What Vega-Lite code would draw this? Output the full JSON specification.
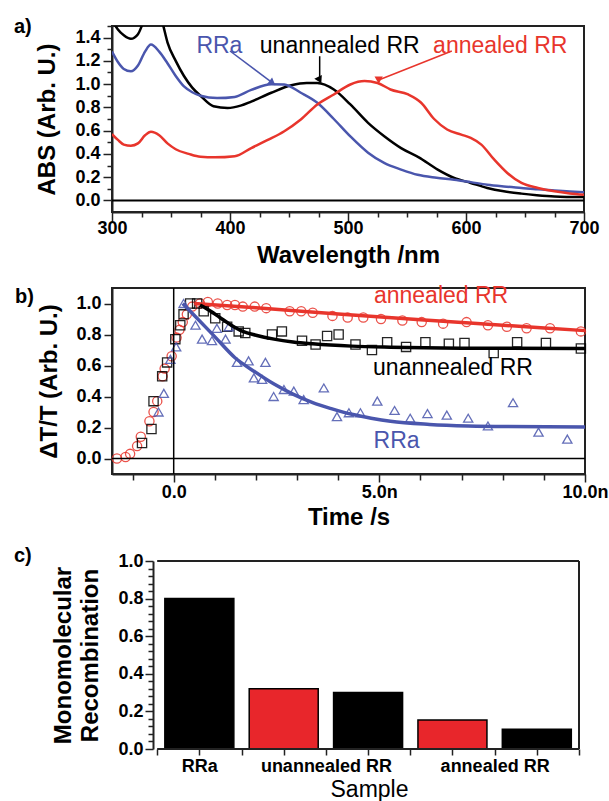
{
  "$schema": "https://vega.github.io/schema/vega-lite/v6.json",
  "padding": {"left": 13, "top": 16, "right": 0, "bottom": 0},
  "background": "white",
  "spacing": 16,
  "datasets": {
    "spectra": [
      {"sample":"unannealed RR","wl":300,"abs":1.55},{"sample":"unannealed RR","wl":305,"abs":1.47},{"sample":"unannealed RR","wl":310,"abs":1.42},{"sample":"unannealed RR","wl":316,"abs":1.39},{"sample":"unannealed RR","wl":322,"abs":1.43},{"sample":"unannealed RR","wl":326,"abs":1.52},{"sample":"unannealed RR","wl":335,"abs":1.75},{"sample":"unannealed RR","wl":343,"abs":1.52},{"sample":"unannealed RR","wl":347,"abs":1.36},{"sample":"unannealed RR","wl":354,"abs":1.2},{"sample":"unannealed RR","wl":361,"abs":1.07},{"sample":"unannealed RR","wl":368,"abs":0.97},{"sample":"unannealed RR","wl":375,"abs":0.9},{"sample":"unannealed RR","wl":386,"abs":0.81},{"sample":"unannealed RR","wl":398,"abs":0.795},{"sample":"unannealed RR","wl":409,"abs":0.815},{"sample":"unannealed RR","wl":418,"abs":0.85},{"sample":"unannealed RR","wl":435,"abs":0.926},{"sample":"unannealed RR","wl":452,"abs":0.99},{"sample":"unannealed RR","wl":465,"abs":1.01},{"sample":"unannealed RR","wl":474,"abs":1.01},{"sample":"unannealed RR","wl":488,"abs":0.954},{"sample":"unannealed RR","wl":502,"abs":0.825},{"sample":"unannealed RR","wl":517,"abs":0.667},{"sample":"unannealed RR","wl":531,"abs":0.55},{"sample":"unannealed RR","wl":545,"abs":0.45},{"sample":"unannealed RR","wl":560,"abs":0.37},{"sample":"unannealed RR","wl":576,"abs":0.265},{"sample":"unannealed RR","wl":590,"abs":0.193},{"sample":"unannealed RR","wl":604,"abs":0.15},{"sample":"unannealed RR","wl":618,"abs":0.107},{"sample":"unannealed RR","wl":632,"abs":0.078},{"sample":"unannealed RR","wl":647,"abs":0.058},{"sample":"unannealed RR","wl":660,"abs":0.045},{"sample":"unannealed RR","wl":675,"abs":0.034},{"sample":"unannealed RR","wl":700,"abs":0.028},
      {"sample":"RRa","wl":300,"abs":1.28},{"sample":"RRa","wl":305,"abs":1.19},{"sample":"RRa","wl":310,"abs":1.13},{"sample":"RRa","wl":316,"abs":1.11},{"sample":"RRa","wl":322,"abs":1.16},{"sample":"RRa","wl":328,"abs":1.28},{"sample":"RRa","wl":333,"abs":1.34},{"sample":"RRa","wl":340,"abs":1.28},{"sample":"RRa","wl":347,"abs":1.18},{"sample":"RRa","wl":354,"abs":1.07},{"sample":"RRa","wl":361,"abs":0.98},{"sample":"RRa","wl":368,"abs":0.93},{"sample":"RRa","wl":375,"abs":0.9},{"sample":"RRa","wl":389,"abs":0.88},{"sample":"RRa","wl":404,"abs":0.89},{"sample":"RRa","wl":418,"abs":0.95},{"sample":"RRa","wl":435,"abs":1.0},{"sample":"RRa","wl":446,"abs":0.997},{"sample":"RRa","wl":460,"abs":0.926},{"sample":"RRa","wl":474,"abs":0.84},{"sample":"RRa","wl":488,"abs":0.7},{"sample":"RRa","wl":502,"abs":0.55},{"sample":"RRa","wl":517,"abs":0.41},{"sample":"RRa","wl":531,"abs":0.32},{"sample":"RRa","wl":545,"abs":0.265},{"sample":"RRa","wl":559,"abs":0.22},{"sample":"RRa","wl":575,"abs":0.195},{"sample":"RRa","wl":590,"abs":0.178},{"sample":"RRa","wl":604,"abs":0.157},{"sample":"RRa","wl":618,"abs":0.135},{"sample":"RRa","wl":632,"abs":0.12},{"sample":"RRa","wl":647,"abs":0.107},{"sample":"RRa","wl":661,"abs":0.095},{"sample":"RRa","wl":675,"abs":0.086},{"sample":"RRa","wl":688,"abs":0.077},{"sample":"RRa","wl":700,"abs":0.069},
      {"sample":"annealed RR","wl":300,"abs":0.57},{"sample":"annealed RR","wl":305,"abs":0.52},{"sample":"annealed RR","wl":310,"abs":0.48},{"sample":"annealed RR","wl":316,"abs":0.47},{"sample":"annealed RR","wl":322,"abs":0.49},{"sample":"annealed RR","wl":328,"abs":0.56},{"sample":"annealed RR","wl":333,"abs":0.59},{"sample":"annealed RR","wl":340,"abs":0.56},{"sample":"annealed RR","wl":347,"abs":0.49},{"sample":"annealed RR","wl":354,"abs":0.44},{"sample":"annealed RR","wl":365,"abs":0.4},{"sample":"annealed RR","wl":375,"abs":0.375},{"sample":"annealed RR","wl":387,"abs":0.37},{"sample":"annealed RR","wl":404,"abs":0.38},{"sample":"annealed RR","wl":418,"abs":0.45},{"sample":"annealed RR","wl":432,"abs":0.52},{"sample":"annealed RR","wl":446,"abs":0.595},{"sample":"annealed RR","wl":460,"abs":0.696},{"sample":"annealed RR","wl":474,"abs":0.825},{"sample":"annealed RR","wl":488,"abs":0.911},{"sample":"annealed RR","wl":502,"abs":0.997},{"sample":"annealed RR","wl":514,"abs":1.026},{"sample":"annealed RR","wl":525,"abs":1.01},{"sample":"annealed RR","wl":536,"abs":0.954},{"sample":"annealed RR","wl":551,"abs":0.911},{"sample":"annealed RR","wl":562,"abs":0.84},{"sample":"annealed RR","wl":573,"abs":0.7},{"sample":"annealed RR","wl":584,"abs":0.61},{"sample":"annealed RR","wl":596,"abs":0.566},{"sample":"annealed RR","wl":604,"abs":0.538},{"sample":"annealed RR","wl":613,"abs":0.48},{"sample":"annealed RR","wl":624,"abs":0.35},{"sample":"annealed RR","wl":635,"abs":0.236},{"sample":"annealed RR","wl":647,"abs":0.15},{"sample":"annealed RR","wl":661,"abs":0.107},{"sample":"annealed RR","wl":675,"abs":0.078},{"sample":"annealed RR","wl":688,"abs":0.06},{"sample":"annealed RR","wl":700,"abs":0.049}
    ],
    "arrows": [
      {"sample":"RRa","wl":400,"abs":1.285,"wl2":436,"abs2":1.01},
      {"sample":"unannealed RR","wl":476,"abs":1.24,"wl2":476,"abs2":1.035},
      {"sample":"annealed RR","wl":588,"abs":1.285,"wl2":526,"abs2":1.035}
    ],
    "labelsA": [
      {"sample":"RRa","wl":391,"abs":1.33},
      {"sample":"unannealed RR","wl":493,"abs":1.33},
      {"sample":"annealed RR","wl":629,"abs":1.33}
    ],
    "points": [
      {"sample":"annealed RR","t":-1.38,"v":0.0},{"sample":"annealed RR","t":-1.17,"v":0.01},{"sample":"annealed RR","t":-1.06,"v":0.03},{"sample":"annealed RR","t":-0.89,"v":0.08},{"sample":"annealed RR","t":-0.8,"v":0.14},{"sample":"annealed RR","t":-0.59,"v":0.24},{"sample":"annealed RR","t":-0.49,"v":0.3},{"sample":"annealed RR","t":-0.4,"v":0.37},{"sample":"annealed RR","t":-0.27,"v":0.53},{"sample":"annealed RR","t":-0.22,"v":0.58},{"sample":"annealed RR","t":-0.05,"v":0.66},{"sample":"annealed RR","t":0.07,"v":0.78},{"sample":"annealed RR","t":0.14,"v":0.83},{"sample":"annealed RR","t":0.22,"v":0.88},{"sample":"annealed RR","t":0.32,"v":0.93},{"sample":"annealed RR","t":0.45,"v":0.98},{"sample":"annealed RR","t":0.64,"v":1.0},{"sample":"annealed RR","t":0.83,"v":1.01},{"sample":"annealed RR","t":1.07,"v":1.0},{"sample":"annealed RR","t":1.3,"v":0.99},{"sample":"annealed RR","t":1.49,"v":0.99},{"sample":"annealed RR","t":1.68,"v":0.98},{"sample":"annealed RR","t":1.97,"v":0.98},{"sample":"annealed RR","t":2.25,"v":0.97},{"sample":"annealed RR","t":2.82,"v":0.95},{"sample":"annealed RR","t":3.1,"v":0.95},{"sample":"annealed RR","t":3.38,"v":0.94},{"sample":"annealed RR","t":3.86,"v":0.92},{"sample":"annealed RR","t":4.23,"v":0.91},{"sample":"annealed RR","t":4.61,"v":0.91},{"sample":"annealed RR","t":5.04,"v":0.9},{"sample":"annealed RR","t":5.56,"v":0.89},{"sample":"annealed RR","t":6.03,"v":0.88},{"sample":"annealed RR","t":6.55,"v":0.87},{"sample":"annealed RR","t":7.12,"v":0.88},{"sample":"annealed RR","t":7.64,"v":0.86},{"sample":"annealed RR","t":8.1,"v":0.85},{"sample":"annealed RR","t":8.58,"v":0.84},{"sample":"annealed RR","t":9.15,"v":0.84},{"sample":"annealed RR","t":9.9,"v":0.82},
      {"sample":"unannealed RR","t":-0.77,"v":0.1},{"sample":"unannealed RR","t":-0.54,"v":0.19},{"sample":"unannealed RR","t":-0.49,"v":0.37},{"sample":"unannealed RR","t":-0.28,"v":0.53},{"sample":"unannealed RR","t":-0.16,"v":0.62},{"sample":"unannealed RR","t":0.04,"v":0.77},{"sample":"unannealed RR","t":0.16,"v":0.86},{"sample":"unannealed RR","t":0.24,"v":0.93},{"sample":"unannealed RR","t":0.4,"v":1.0},{"sample":"unannealed RR","t":0.57,"v":1.0},{"sample":"unannealed RR","t":0.73,"v":0.95},{"sample":"unannealed RR","t":1.01,"v":0.905},{"sample":"unannealed RR","t":1.3,"v":0.85},{"sample":"unannealed RR","t":1.58,"v":0.82},{"sample":"unannealed RR","t":1.74,"v":0.81},{"sample":"unannealed RR","t":2.39,"v":0.8},{"sample":"unannealed RR","t":2.63,"v":0.82},{"sample":"unannealed RR","t":3.12,"v":0.76},{"sample":"unannealed RR","t":3.45,"v":0.735},{"sample":"unannealed RR","t":3.73,"v":0.79},{"sample":"unannealed RR","t":4.01,"v":0.8},{"sample":"unannealed RR","t":4.42,"v":0.735},{"sample":"unannealed RR","t":4.82,"v":0.7},{"sample":"unannealed RR","t":5.19,"v":0.75},{"sample":"unannealed RR","t":5.65,"v":0.72},{"sample":"unannealed RR","t":6.12,"v":0.75},{"sample":"unannealed RR","t":6.69,"v":0.74},{"sample":"unannealed RR","t":7.07,"v":0.745},{"sample":"unannealed RR","t":7.78,"v":0.68},{"sample":"unannealed RR","t":8.35,"v":0.75},{"sample":"unannealed RR","t":9.05,"v":0.745},{"sample":"unannealed RR","t":9.9,"v":0.71},
      {"sample":"RRa","t":-0.37,"v":0.3},{"sample":"RRa","t":-0.24,"v":0.42},{"sample":"RRa","t":-0.08,"v":0.64},{"sample":"RRa","t":0.06,"v":0.72},{"sample":"RRa","t":0.24,"v":1.0},{"sample":"RRa","t":0.53,"v":0.86},{"sample":"RRa","t":0.69,"v":0.77},{"sample":"RRa","t":0.93,"v":0.76},{"sample":"RRa","t":1.05,"v":0.84},{"sample":"RRa","t":1.26,"v":0.77},{"sample":"RRa","t":1.34,"v":0.85},{"sample":"RRa","t":1.54,"v":0.62},{"sample":"RRa","t":1.82,"v":0.63},{"sample":"RRa","t":1.95,"v":0.52},{"sample":"RRa","t":2.15,"v":0.51},{"sample":"RRa","t":2.23,"v":0.62},{"sample":"RRa","t":2.43,"v":0.4},{"sample":"RRa","t":2.68,"v":0.445},{"sample":"RRa","t":2.92,"v":0.435},{"sample":"RRa","t":3.16,"v":0.38},{"sample":"RRa","t":3.65,"v":0.455},{"sample":"RRa","t":3.97,"v":0.27},{"sample":"RRa","t":4.26,"v":0.295},{"sample":"RRa","t":4.54,"v":0.295},{"sample":"RRa","t":4.95,"v":0.37},{"sample":"RRa","t":5.37,"v":0.31},{"sample":"RRa","t":5.75,"v":0.26},{"sample":"RRa","t":6.17,"v":0.29},{"sample":"RRa","t":6.64,"v":0.28},{"sample":"RRa","t":7.16,"v":0.26},{"sample":"RRa","t":7.64,"v":0.21},{"sample":"RRa","t":8.25,"v":0.36},{"sample":"RRa","t":8.87,"v":0.17},{"sample":"RRa","t":9.57,"v":0.125}
    ],
    "fits": [
      {"sample":"annealed RR","t":0.5,"v":1.0},{"sample":"annealed RR","t":2,"v":0.972},{"sample":"annealed RR","t":4,"v":0.933},{"sample":"annealed RR","t":6,"v":0.895},{"sample":"annealed RR","t":8,"v":0.86},{"sample":"annealed RR","t":10,"v":0.825},
      {"sample":"unannealed RR","t":0.64,"v":0.99},{"sample":"unannealed RR","t":0.9,"v":0.95},{"sample":"unannealed RR","t":1.12,"v":0.91},{"sample":"unannealed RR","t":1.4,"v":0.86},{"sample":"unannealed RR","t":1.68,"v":0.82},{"sample":"unannealed RR","t":2.0,"v":0.795},{"sample":"unannealed RR","t":2.44,"v":0.77},{"sample":"unannealed RR","t":2.9,"v":0.752},{"sample":"unannealed RR","t":3.38,"v":0.74},{"sample":"unannealed RR","t":4.33,"v":0.725},{"sample":"unannealed RR","t":5.27,"v":0.718},{"sample":"unannealed RR","t":7,"v":0.712},{"sample":"unannealed RR","t":10,"v":0.71},
      {"sample":"RRa","t":0.22,"v":1.0},{"sample":"RRa","t":0.55,"v":0.91},{"sample":"RRa","t":1.02,"v":0.78},{"sample":"RRa","t":1.49,"v":0.65},{"sample":"RRa","t":1.97,"v":0.56},{"sample":"RRa","t":2.44,"v":0.48},{"sample":"RRa","t":2.9,"v":0.415},{"sample":"RRa","t":3.38,"v":0.36},{"sample":"RRa","t":3.85,"v":0.32},{"sample":"RRa","t":4.33,"v":0.285},{"sample":"RRa","t":4.8,"v":0.26},{"sample":"RRa","t":5.27,"v":0.24},{"sample":"RRa","t":6.22,"v":0.22},{"sample":"RRa","t":7.16,"v":0.21},{"sample":"RRa","t":8.1,"v":0.206},{"sample":"RRa","t":10,"v":0.204}
    ],
    "labelsB": [
      {"sample":"annealed RR","t":6.5,"v":1.047},
      {"sample":"unannealed RR","t":6.79,"v":0.586},
      {"sample":"RRa","t":5.42,"v":0.114}
    ],
    "bars": [
      {"bar":1,"sample":"RRa","variant":"B","value":0.8},
      {"bar":2,"sample":"unannealed RR","variant":"A","value":0.32},
      {"bar":3,"sample":"unannealed RR","variant":"B","value":0.3},
      {"bar":4,"sample":"annealed RR","variant":"A","value":0.154},
      {"bar":5,"sample":"annealed RR","variant":"B","value":0.105}
    ]
  },
  "vconcat": [
    {
      "width": 472,
      "height": 186,
      "title": {"text": "a)", "anchor": "start", "frame": "group", "orient": "top", "baseline": "top", "offset": 0, "dx": -98, "dy": 20, "fontSize": 20, "fontWeight": "bold", "font": "Liberation Sans", "color": "black"},
      "layer": [
        {
          "data": {"name": "spectra"},
          "mark": {"type": "line", "clip": true, "strokeWidth": 2.5, "interpolate": "monotone"},
          "encoding": {
            "x": {"field": "wl", "type": "quantitative", "scale": {"domain": [300, 700], "nice": false, "zero": false},
              "axis": {"title": "Wavelength /nm", "tickCount": 1000, "labelOverlap": false, "values": [300,325,350,375,400,425,450,475,500,525,550,575,600,625,650,675,700], "labelExpr": "datum.value % 100 == 0 ? format(datum.value, 'd') : ''", "labelFlush": false, "tickSize": {"condition": {"test": "datum.value % 100 == 0", "value": 9}, "value": 5}, "labelPadding": -2, "titlePadding": 6}},
            "y": {"field": "abs", "type": "quantitative", "scale": {"domain": [-0.1, 1.5], "nice": false, "zero": false},
              "axis": {"title": "ABS (Arb. U.)", "tickCount": 1000, "labelOverlap": false, "values": [0,0.1,0.2,0.3,0.4,0.5,0.6,0.7,0.8,0.9,1.0,1.1,1.2,1.3,1.4,1.5], "labelExpr": "round(datum.value*10) % 2 == 0 && datum.value < 1.45 ? format(datum.value, '.1f') : ''", "tickSize": {"condition": {"test": "round(datum.value*10) % 2 == 0", "value": 9}, "value": 5}, "labelPadding": 3, "titlePadding": 15}},
            "color": {"field": "sample", "type": "nominal", "scale": {"domain": ["RRa", "unannealed RR", "annealed RR"], "range": ["#4a56ad", "#000000", "#e8352c"]}, "legend": null}
          }
        },
        {
          "data": {"values": [{"abs": 0}]},
          "mark": {"type": "rule", "color": "black", "strokeWidth": 2},
          "encoding": {"y": {"field": "abs", "type": "quantitative"}}
        },
        {
          "data": {"name": "arrows"},
          "mark": {"type": "rule", "strokeWidth": 1.5},
          "encoding": {
            "x": {"field": "wl", "type": "quantitative"},
            "y": {"field": "abs", "type": "quantitative"},
            "x2": {"field": "wl2"},
            "y2": {"field": "abs2"},
            "color": {"field": "sample", "type": "nominal", "legend": null}
          }
        },
        {
          "data": {"name": "arrows"},
          "mark": {"type": "point", "shape": "triangle-up", "filled": true, "opacity": 1, "size": 70},
          "encoding": {
            "x": {"field": "wl2", "type": "quantitative"},
            "y": {"field": "abs2", "type": "quantitative"},
            "angle": {"field": "sample", "type": "nominal", "scale": {"domain": ["RRa", "unannealed RR", "annealed RR"], "range": [127, 180, 248]}, "legend": null},
            "color": {"field": "sample", "type": "nominal", "legend": null}
          }
        },
        {
          "data": {"name": "labelsA"},
          "mark": {"type": "text", "fontSize": 23, "font": "Liberation Sans", "baseline": "middle", "align": "center"},
          "encoding": {
            "x": {"field": "wl", "type": "quantitative"},
            "y": {"field": "abs", "type": "quantitative"},
            "text": {"field": "sample"},
            "color": {"field": "sample", "type": "nominal", "legend": null}
          }
        }
      ]
    },
    {
      "width": 473,
      "height": 186,
      "title": {"text": "b)", "anchor": "start", "frame": "group", "orient": "top", "baseline": "top", "offset": 0, "dx": -97, "dy": 22, "fontSize": 20, "fontWeight": "bold", "font": "Liberation Sans", "color": "black"},
      "layer": [
        {
          "data": {"name": "points"},
          "mark": {"type": "point", "filled": false, "strokeWidth": 1.3, "size": 85, "opacity": 0.85},
          "encoding": {
            "x": {"field": "t", "type": "quantitative", "scale": {"domain": [-1.5, 10], "nice": false, "zero": false},
              "axis": {"title": "Time /s", "tickCount": 1000, "labelOverlap": false, "values": [-1,0,1,2,3,4,5,6,7,8,9,10], "labelExpr": "datum.value == 0 ? '0.0' : datum.value == 5 ? '5.0n' : datum.value == 10 ? '10.0n' : ''", "labelFlush": false, "tickSize": {"condition": {"test": "datum.value % 5 == 0", "value": 8}, "value": 6}, "labelPadding": 1, "titlePadding": 4}},
            "y": {"field": "v", "type": "quantitative", "scale": {"domain": [-0.1, 1.1], "nice": false, "zero": false},
              "axis": {"title": "ΔT/T (Arb. U.)", "tickCount": 1000, "labelOverlap": false, "values": [0,0.2,0.4,0.6,0.8,1.0], "labelExpr": "format(datum.value, '.1f')", "tickSize": 8, "labelPadding": 3, "titlePadding": 14}},
            "shape": {"field": "sample", "type": "nominal", "scale": {"domain": ["RRa", "unannealed RR", "annealed RR"], "range": ["triangle-up", "square", "circle"]}, "legend": null},
            "color": {"field": "sample", "type": "nominal", "legend": null}
          }
        },
        {
          "data": {"values": [{"v": 0}]},
          "mark": {"type": "rule", "color": "black", "strokeWidth": 1.5},
          "encoding": {"y": {"field": "v", "type": "quantitative"}}
        },
        {
          "data": {"values": [{"t": 0}]},
          "mark": {"type": "rule", "color": "black", "strokeWidth": 1.5},
          "encoding": {"x": {"field": "t", "type": "quantitative"}}
        },
        {
          "data": {"name": "fits"},
          "mark": {"type": "line", "strokeWidth": 3.5, "interpolate": "monotone"},
          "encoding": {
            "x": {"field": "t", "type": "quantitative"},
            "y": {"field": "v", "type": "quantitative"},
            "color": {"field": "sample", "type": "nominal", "legend": null}
          }
        },
        {
          "data": {"name": "labelsB"},
          "mark": {"type": "text", "fontSize": 23, "font": "Liberation Sans", "baseline": "middle", "align": "center"},
          "encoding": {
            "x": {"field": "t", "type": "quantitative"},
            "y": {"field": "v", "type": "quantitative"},
            "text": {"field": "sample"},
            "color": {"field": "sample", "type": "nominal", "legend": null}
          }
        }
      ]
    },
    {
      "width": 472,
      "height": 188,
      "view": {"stroke": null},
      "title": {"text": "c)", "anchor": "start", "frame": "group", "orient": "top", "baseline": "top", "offset": 0, "dx": -98, "dy": 14, "fontSize": 20, "fontWeight": "bold", "font": "Liberation Sans", "color": "black"},
      "layer": [
        {
          "data": {"name": "bars"},
          "mark": {"type": "bar", "width": 69, "stroke": "black", "strokeWidth": 1.5},
          "encoding": {
            "x": {"field": "bar", "type": "quantitative", "scale": {"domain": [0.024, 5.5], "nice": false, "zero": false},
              "axis": {"title": "Sample", "titleX": 257, "tickCount": 1000, "labelOverlap": false, "domain": false, "titleFontWeight": "normal", "titleFontSize": 23, "values": [0.5,1,1.5,2,2.5,3,3.5,4,4.5,5,5.5], "labelExpr": "datum.value == 1 ? 'RRa' : datum.value == 2.5 ? 'unannealed RR' : datum.value == 4.5 ? 'annealed RR' : ''", "labelFlush": false, "tickSize": 6, "labelPadding": 2, "titlePadding": 3}},
            "y": {"field": "value", "type": "quantitative", "scale": {"domain": [0, 1], "nice": false},
              "axis": {"title": ["Monomolecular", "Recombination"], "offset": -41, "tickCount": 1000, "labelOverlap": false, "titleLineHeight": 27, "values": [0,0.04,0.08,0.12,0.16,0.2,0.24,0.28,0.32,0.36,0.4,0.44,0.48,0.52,0.56,0.6,0.64,0.68,0.72,0.76,0.8,0.84,0.88,0.92,0.96,1.0], "labelExpr": "round(datum.value*100) % 20 == 0 ? format(datum.value, '.1f') : ''", "tickSize": {"condition": {"test": "round(datum.value*100) % 20 == 0", "value": 8}, "value": 5}, "labelPadding": 2, "titlePadding": 15}},
            "color": {"condition": {"test": "datum.variant == 'A'", "value": "#e8262b"}, "value": "#000000"}
          }
        },
        {
          "data": {"values": [{}]},
          "mark": {"type": "rule", "color": "#222222", "strokeWidth": 2},
          "encoding": {"x": {"datum": 0.5}, "x2": {"datum": 5.5}, "y": {"datum": 0}}
        },
        {
          "data": {"values": [{}]},
          "mark": {"type": "rule", "color": "#222222", "strokeWidth": 2},
          "encoding": {"x": {"datum": 0.5}, "x2": {"datum": 5.5}, "y": {"datum": 1}}
        },
        {
          "data": {"values": [{}]},
          "mark": {"type": "rule", "color": "#222222", "strokeWidth": 2},
          "encoding": {"x": {"datum": 5.5}, "y": {"datum": 0}, "y2": {"datum": 1}}
        }
      ]
    }
  ],
  "config": {
    "view": {"stroke": "#222222", "strokeWidth": 2},
    "axis": {
      "grid": false,
      "domainColor": "#222222",
      "domainWidth": 2,
      "tickColor": "#222222",
      "tickWidth": 1.5,
      "labelFont": "Liberation Sans",
      "labelFontWeight": "bold",
      "labelFontSize": 18,
      "labelColor": "black",
      "labelOverlap": false,
      "titleFont": "Liberation Sans",
      "titleFontWeight": "bold",
      "titleFontSize": 24,
      "titleColor": "black"
    }
  }
}
